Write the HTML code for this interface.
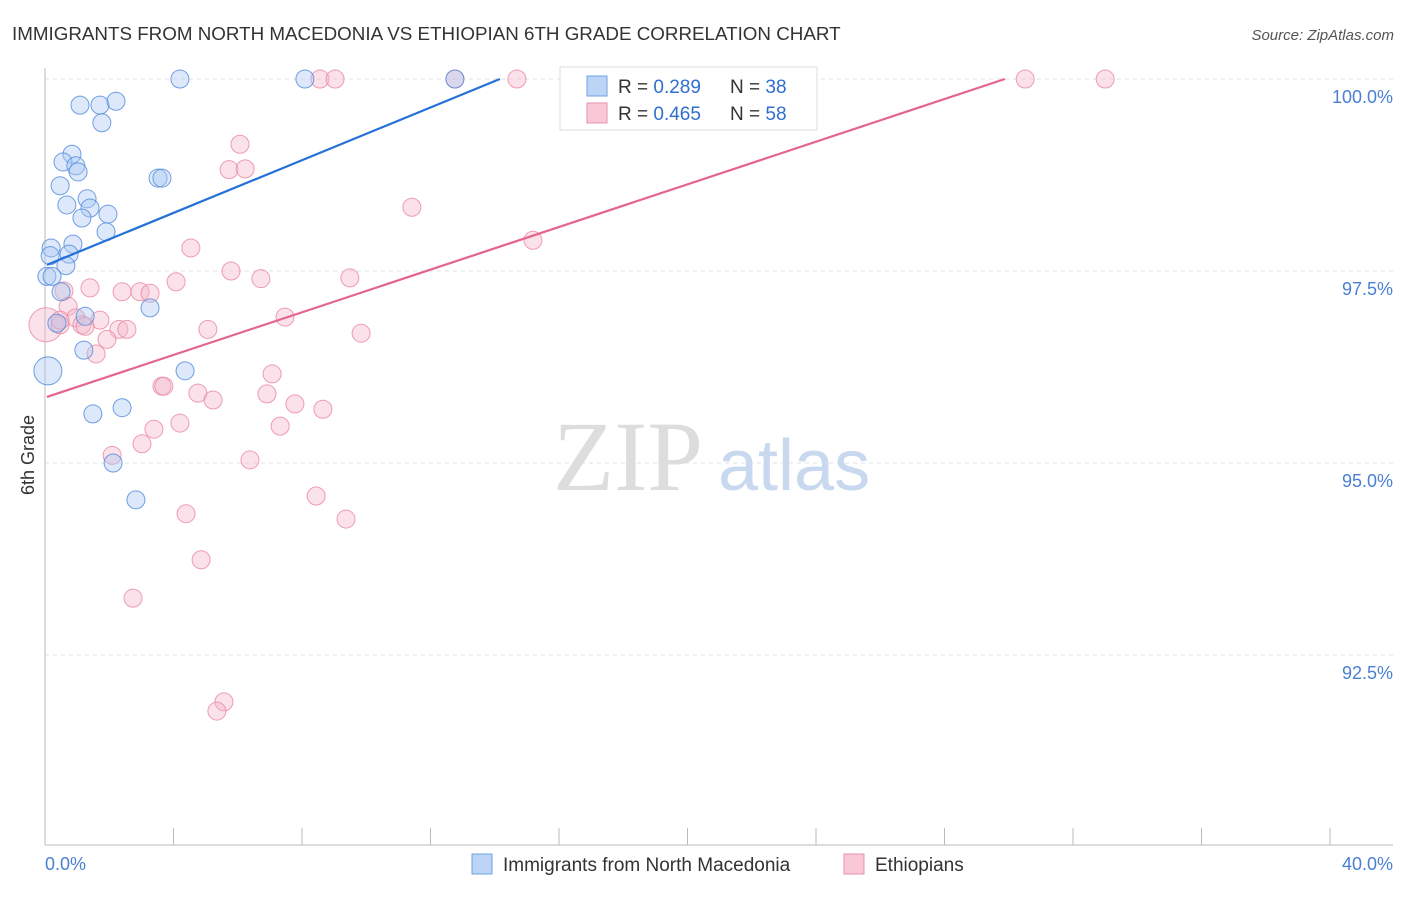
<!DOCTYPE html>
<html><head><meta charset="utf-8"><style>
body{margin:0;background:#fff;font-family:"Liberation Sans",sans-serif}
</style></head><body>
<svg width="1406" height="892" xmlns="http://www.w3.org/2000/svg">
<text x="12" y="40" font-size="18.8" fill="#333">IMMIGRANTS FROM NORTH MACEDONIA VS ETHIOPIAN 6TH GRADE CORRELATION CHART</text>
<text x="1394" y="40" font-size="15" fill="#555" font-style="italic" text-anchor="end">Source: ZipAtlas.com</text>
<g id="grid"></g>
<text x="553" y="490" font-size="100" fill="#ddd" font-family="Liberation Serif">ZIP</text>
<text x="718" y="490" font-size="72" fill="#c8d8ee">atlas</text>
<g id="marks"></g>
<text x="34" y="455" font-size="18" fill="#333" transform="rotate(-90 34 455)" text-anchor="middle">6th Grade</text>
<text x="45" y="870" font-size="18" fill="#4a7fd4">0.0%</text>
<text x="1393" y="870" font-size="18" fill="#4a7fd4" text-anchor="end">40.0%</text>
<g>
<rect x="560" y="67" width="257" height="63" fill="#fff" stroke="#ddd"/>
<rect x="587" y="76" width="20" height="20" fill="#bcd4f5" stroke="#6f9fe0"/>
<text x="618" y="93" font-size="19" fill="#333">R = <tspan fill="#2f6fd0">0.289</tspan></text>
<text x="730" y="93" font-size="19" fill="#333">N = <tspan fill="#2f6fd0">38</tspan></text>
<rect x="587" y="103" width="20" height="20" fill="#f8c8d6" stroke="#e890aa"/>
<text x="618" y="120" font-size="19" fill="#333">R = <tspan fill="#2f6fd0">0.465</tspan></text>
<text x="730" y="120" font-size="19" fill="#333">N = <tspan fill="#2f6fd0">58</tspan></text>
</g>
<g>
<rect x="472" y="854" width="20" height="20" fill="#bcd4f5" stroke="#6f9fe0"/>
<text x="503" y="871" font-size="19" fill="#333">Immigrants from North Macedonia</text>
<rect x="844" y="854" width="20" height="20" fill="#f8c8d6" stroke="#e890aa"/>
<text x="875" y="871" font-size="19" fill="#333">Ethiopians</text>
</g>
</svg>
<script>
const yTicks=[100,97.5,95,92.5];
const yTickLabels=["100.0%","97.5%","95.0%","92.5%"];
const xTicks=[0,4,8,12,16,20,24,28,32,36,40];
const blueX=[4.20,8.09,12.76,1.09,1.71,2.21,1.77,0.84,0.56,0.96,1.03,0.47,3.52,3.64,0.68,1.31,1.40,1.15,1.96,1.90,0.87,0.19,0.75,0.16,0.65,0.06,0.22,0.50,3.27,1.25,0.37,1.21,4.36,0.09,1.49,2.40,2.12,2.83];
const blueY=[100,100,100,99.66,99.66,99.71,99.43,99.02,98.92,98.87,98.79,98.61,98.71,98.71,98.36,98.44,98.32,98.19,98.24,98.01,97.85,97.80,97.72,97.70,97.57,97.43,97.43,97.23,97.02,96.91,96.82,96.47,96.20,96.20,95.64,95.72,95.00,94.52];
const pinkX=[8.56,9.03,12.76,14.69,20.70,30.51,33.00,6.07,5.73,6.23,11.42,15.19,4.54,5.79,6.72,9.49,4.08,1.40,0.59,2.40,2.96,3.27,0.72,1.71,0.96,7.47,5.07,2.30,2.55,1.15,0.03,0.47,9.84,1.93,1.59,7.07,3.64,3.70,4.76,5.23,6.91,7.78,8.65,4.20,3.39,7.32,3.02,2.09,6.38,8.44,9.37,4.39,4.86,2.74,5.57,5.35,0.47,1.25];
const pinkY=[100,100,100,100,100,100,100,99.15,98.82,98.83,98.33,97.90,97.80,97.50,97.40,97.41,97.36,97.28,97.24,97.23,97.23,97.21,97.04,96.86,96.89,96.90,96.74,96.74,96.74,96.80,96.80,96.80,96.69,96.61,96.42,96.16,96.00,96.00,95.91,95.82,95.90,95.77,95.70,95.52,95.44,95.48,95.25,95.10,95.04,94.57,94.27,94.34,93.74,93.24,91.89,91.77,96.86,96.78];
const blueLine=[0.06,97.58,14.16,100];
const pinkLine=[0.06,95.86,29.88,100];
const NS="http://www.w3.org/2000/svg";
const xs=v=>45+v/40*1285, ys=v=>79+(100-v)/2.5*192;
function mk(t,a,p){const e=document.createElementNS(NS,t);for(const k in a)e.setAttribute(k,a[k]);p.appendChild(e);return e;}
const g=document.getElementById('grid'), m=document.getElementById('marks');
yTicks.forEach((t,i)=>{
 const l=mk('line',{x1:45,x2:1393,y1:ys(t),y2:ys(t),stroke:'#e2e2e2','stroke-dasharray':'4 4'},g);
 
 
 const tx=mk('text',{x:1393,y:ys(t)+24,'font-size':18,fill:'#4a7fd4','text-anchor':'end'},g);
 tx.textContent=yTickLabels[i];
 
 
});
const ax=mk('line',{x1:45,x2:45,y1:68,y2:845,stroke:'#bbb'},g);


const bx=mk('line',{x1:45,x2:1393,y1:845,y2:845,stroke:'#bbb'},g);


xTicks.forEach(t=>{
 const l=mk('line',{x1:xs(t),x2:xs(t),y1:828,y2:845,stroke:'#bbb'},g);
 
 
});
function pts(X,Y,fill,stroke,name,bigR){X.forEach((x,i)=>{
 const big=(x<0.1&&(Y[i]==96.2||Y[i]==96.8));
 const c=mk('circle',{cx:xs(x),cy:ys(Y[i]),r:big?bigR:9,fill:fill,'fill-opacity':0.4,stroke:stroke,'stroke-opacity':0.8,'stroke-width':1},m);
 
 
});}
pts(pinkX,pinkY,'#f6b6ca','#e8879f','ethiopian-point',17);
pts(blueX,blueY,'#a9c8f2','#4f88dc','macedonia-point',14);
function ln(L,c,name){const e=mk('line',{x1:xs(L[0]),y1:ys(L[1]),x2:xs(L[2]),y2:ys(L[3]),stroke:c,'stroke-width':2.2},m);
 
 }
ln(blueLine,'#2471d8','macedonia-trendline');
ln(pinkLine,'#e5648c','ethiopian-trendline');
</script>
</body></html>
